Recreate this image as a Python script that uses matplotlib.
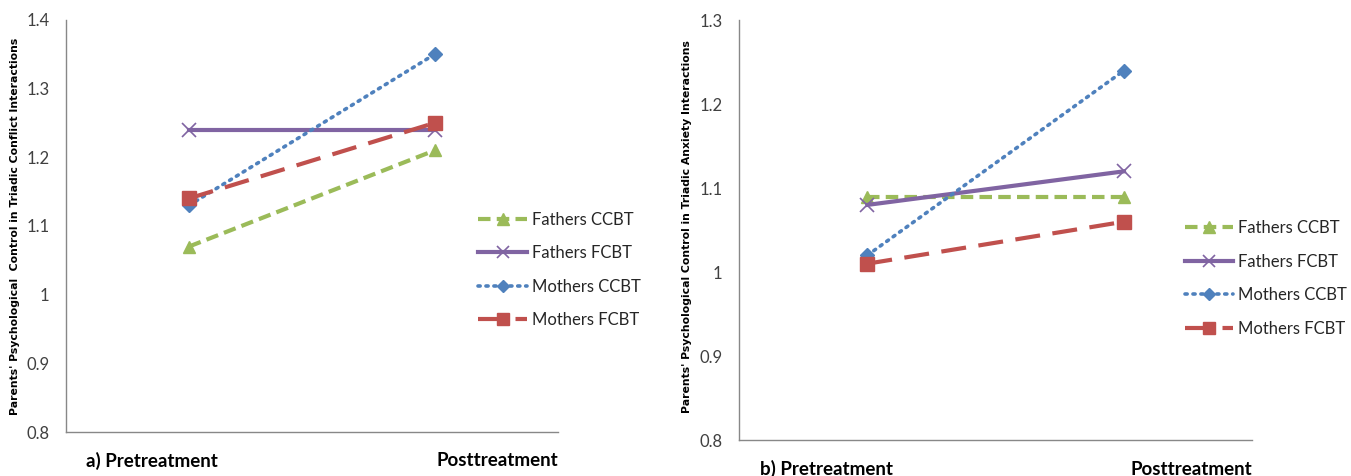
import matplotlib

matplotlib.use("Agg")

import matplotlib.pyplot as plt

plt.rcParams["font.family"] = ["Lato", "DejaVu Sans"]

phases = ["Pretreatment", "Posttreatment"]
series_names = ["Fathers CCBT", "Fathers FCBT", "Mothers CCBT", "Mothers FCBT"]

conflict_fathers_ccbt = [1.07, 1.21]
conflict_fathers_fcbt = [1.24, 1.24]
conflict_mothers_ccbt = [1.13, 1.35]
conflict_mothers_fcbt = [1.14, 1.25]

anxiety_fathers_ccbt = [1.09, 1.09]
anxiety_fathers_fcbt = [1.08, 1.12]
anxiety_mothers_ccbt = [1.02, 1.24]
anxiety_mothers_fcbt = [1.01, 1.06]

conflict_ticks = [0.8, 0.9, 1.0, 1.1, 1.2, 1.3, 1.4]
anxiety_ticks = [0.8, 0.9, 1.0, 1.1, 1.2, 1.3]

styles = [
    dict(color="#9BBB59", linestyle=(0, (3, 1.5)), marker="^", markersize=9, linewidth=3),
    dict(color="#8064A2", linestyle="-", marker="x", markersize=10, linewidth=3, markeredgewidth=1.2),
    dict(color="#4F81BD", linestyle=(0, (0.6, 1.6)), marker="D", markersize=7, linewidth=2.6,
         dash_capstyle="round"),
    dict(color="#C0504D", linestyle=(0, (6, 3)), marker="s", markersize=10, linewidth=3),
]


def draw_panel(ax, series, ticks, ylabel, ylabel_x, first_label, label_y, legend_anchor):
    x = [0, 1]
    for name, values, st in zip(series_names, series, styles):
        ax.plot(x, values, label=name, **st)
    ax.set_xlim(-0.5, 1.5)
    ax.set_ylim(ticks[0], ticks[-1])
    ax.set_yticks(ticks)
    ax.set_yticklabels([f"{t:g}" for t in ticks])
    ax.set_xticks([])
    for side in ["top", "right"]:
        ax.spines[side].set_visible(False)
    for side in ["left", "bottom"]:
        ax.spines[side].set_color("#888888")
        ax.spines[side].set_linewidth(1)
    ax.tick_params(axis="y", length=0, labelsize=12, labelcolor="#404040", pad=12)
    fig = ax.figure
    fig.text(ylabel_x, 0.525, ylabel, rotation=90, ha="center", va="center",
             fontsize=7.8, fontweight="bold", family=["DejaVu Sans"])
    ax.text(-0.42, label_y, first_label + phases[0], transform=ax.get_xaxis_transform(),
            fontsize=13.5, fontweight="bold", va="center", ha="left")
    ax.text(1.5, label_y, phases[1], transform=ax.get_xaxis_transform(),
            fontsize=13.5, fontweight="bold", va="center", ha="right")
    leg = ax.legend(loc="center left", bbox_to_anchor=legend_anchor, frameon=False,
                    fontsize=12, handlelength=2.9, labelspacing=1.05, handletextpad=0.3,
                    markerscale=0.9, bbox_transform=fig.transFigure)
    for txt in leg.get_texts():
        txt.set_color("#262626")


fig = plt.figure(figsize=(13.51, 4.76), dpi=100)
ax1 = fig.add_axes([0.0489, 0.0924, 0.364, 0.866])
ax2 = fig.add_axes([0.547, 0.0756, 0.380, 0.882])

draw_panel(ax1,
           [conflict_fathers_ccbt, conflict_fathers_fcbt, conflict_mothers_ccbt, conflict_mothers_fcbt],
           conflict_ticks,
           "Parents' Psychological  Control in Triadic Conflict Interactions", 15 / 1351,
           "a) ", -0.07, (0.343, 0.433))
draw_panel(ax2,
           [anxiety_fathers_ccbt, anxiety_fathers_fcbt, anxiety_mothers_ccbt, anxiety_mothers_fcbt],
           anxiety_ticks,
           "Parents' Psychological Control in Triadic Anxiety Interactions", 687 / 1351,
           "b) ", -0.07, (0.866, 0.415))

fig.savefig("out.png", dpi=100)
